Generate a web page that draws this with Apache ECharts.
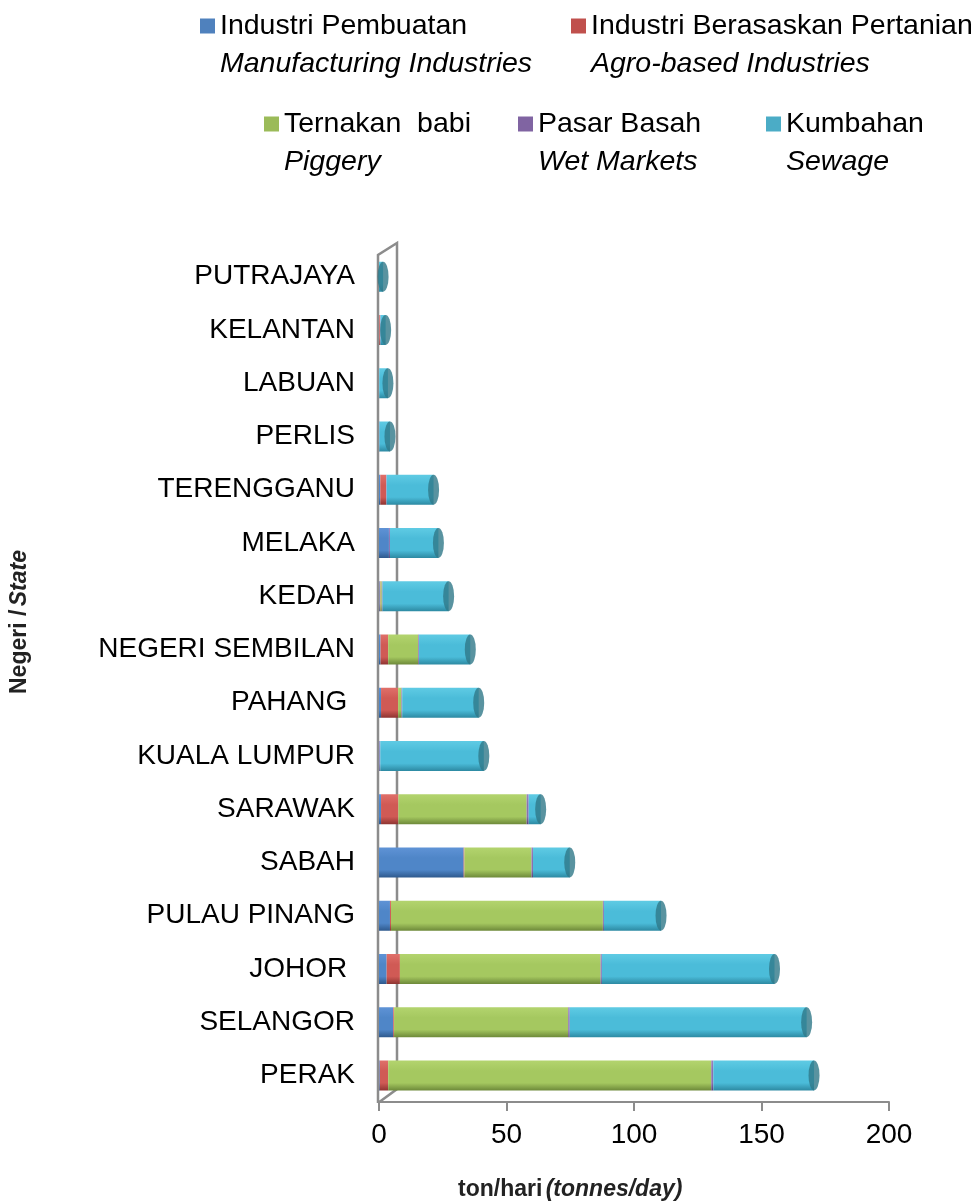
<!DOCTYPE html>
<html>
<head>
<meta charset="utf-8">
<script src="https://cdn.jsdelivr.net/npm/echarts@6/dist/echarts.min.js"></script>
<style>
  html, body { margin: 0; padding: 0; background: #fff; }
  #main { width: 978px; height: 1203px; }
</style>
</head>
<body>
<div id="main"></div>
<script>
// states, bottom to top
const states = ['PERAK', 'SELANGOR', 'JOHOR ', 'PULAU PINANG', 'SABAH', 'SARAWAK', 'KUALA LUMPUR', 'PAHANG ',
  'NEGERI SEMBILAN', 'KEDAH', 'MELAKA', 'TERENGGANU', 'PERLIS', 'LABUAN', 'KELANTAN', 'PUTRAJAYA'];

// tonnes/day, same order as states
const manufacturing = [0.3, 5.6, 3.0, 4.3, 33.2, 0.8, 0.2, 0.8, 0.6, 0.3, 3.9, 0.5, 0.2, 0.1, 0.1, 0];
const agro = [3.3, 0.3, 5.2, 0.4, 0.3, 6.8, 0, 6.7, 3.0, 0.3, 0, 2.3, 0, 0, 0.3, 0];
const piggery = [126.7, 68.3, 78.7, 83.1, 26.3, 50.3, 0, 1.3, 11.8, 0.5, 0, 0, 0, 0, 0, 0];
const wetMarkets = [0.8, 0.6, 0.5, 0.4, 0.6, 0.8, 0.3, 0.3, 0.3, 0.3, 0.4, 0.2, 0, 0, 0.2, 0];
const sewage = [39.5, 92.9, 67.7, 22.4, 14.4, 4.7, 40.6, 30.0, 20.1, 25.9, 19.0, 18.4, 4.1, 3.4, 2.0, 1.6];

const xTicks = [0, 50, 100, 150, 200];

const seriesNames = ['Industri Pembuatan', 'Industri Berasaskan Pertanian', 'Ternakan  babi', 'Pasar Basah', 'Kumbahan'];
const seriesEnglish = ['Manufacturing Industries', 'Agro-based Industries', 'Piggery', 'Wet Markets', 'Sewage'];
const seriesData = [manufacturing, agro, piggery, wetMarkets, sewage];

// [legend colour, cylinder top, cylinder middle, cylinder bottom]
const palette = [
  ['#4f81bd', '#5f93d6', '#4f86c8', '#2f5a8e'],
  ['#c0504d', '#e0706a', '#d05a55', '#8f3532'],
  ['#9bbb59', '#b3d46e', '#a5c860', '#6e8a3a'],
  ['#8064a2', '#9c82c0', '#8a6fb0', '#5a4478'],
  ['#4bacc6', '#5fcbe4', '#4bbcd9', '#2d8aa3']
];

const GRID_LEFT = 379, GRID_RIGHT = 89, GRID_TOP = 250, GRID_BOTTOM = 101;
const FONT = 'Liberation Sans, Arial, sans-serif';

function cyl(c) {
  return {
    type: 'linear', x: 0, y: 0, x2: 0, y2: 1,
    colorStops: [
      { offset: 0, color: c[1] },
      { offset: 0.35, color: c[2] },
      { offset: 0.75, color: c[2] },
      { offset: 1, color: c[3] }
    ]
  };
}

const totals = states.map((s, i) => seriesData.reduce((a, d) => a + d[i], 0));

const chart = echarts.init(document.getElementById('main'));

// one legend per item so positions follow the original
const legendLeft = [200, 571, 264, 518, 766];
const legendTop = [-31, -31, 67, 67, 67];
const legends = seriesNames.map((n, i) => ({
  data: [{ name: n, itemStyle: { color: palette[i][0] } }],
  left: legendLeft[i],
  top: legendTop[i],
  padding: 0,
  itemWidth: 15,
  itemHeight: 15,
  itemGap: 5,
  icon: 'rect',
  formatter: name => '{b| }\n' + name + '\n{i|' + seriesEnglish[seriesNames.indexOf(name)] + '}',
  textStyle: {
    fontFamily: FONT,
    fontSize: 28.5,
    color: '#000',
    lineHeight: 38,
    rich: {
      b: { fontSize: 28.5, lineHeight: 38 },
      i: { fontSize: 28.5, lineHeight: 38, fontStyle: 'italic', color: '#000', fontFamily: FONT }
    }
  }
}));

const series = seriesNames.map((n, k) => ({
  name: n,
  type: 'bar',
  stack: 'total',
  barWidth: 30,
  color: palette[k][0],
  itemStyle: { color: cyl(palette[k]) },
  emphasis: { disabled: true },
  data: seriesData[k]
}));

// end cap of each cylinder
series.push({
  type: 'scatter',
  symbol: 'circle',
  symbolSize: [11, 30],
  z: 5,
  silent: true,
  itemStyle: { color: '#2f7888' },
  data: totals.map((t, i) => [t, i])
});

chart.setOption({
  animation: false,
  backgroundColor: '#fff',
  legend: legends,
  grid: { left: GRID_LEFT, right: GRID_RIGHT, top: GRID_TOP, bottom: GRID_BOTTOM, containLabel: false },
  xAxis: {
    type: 'value',
    min: xTicks[0],
    max: xTicks[xTicks.length - 1],
    interval: 50,
    axisLine: { show: true, lineStyle: { color: '#8c8c8c', width: 2 } },
    axisTick: { show: true, length: 9, lineStyle: { color: '#8c8c8c', width: 2 } },
    splitLine: { show: false },
    axisLabel: { fontFamily: FONT, fontSize: 28, color: '#000', margin: 19 }
  },
  yAxis: {
    type: 'category',
    data: states,
    axisLine: { show: false },
    axisTick: { show: false },
    axisLabel: { fontFamily: FONT, fontSize: 28, color: '#000', margin: 24 }
  },
  series: series
});

// 3D-style frame (front wall, back wall, floor edge) and axis titles
const x0 = GRID_LEFT - 1, depthX = 19, depthY = 14;
const yTop = GRID_TOP + 5, yBot = 1203 - GRID_BOTTOM + 1;
const frameStyle = { stroke: '#8c8c8c', lineWidth: 2.5, fill: null };
chart.setOption({
  graphic: [
    { type: 'polyline', shape: { points: [[x0, yBot], [x0, yTop], [x0 + depthX, yTop - depthY + 2], [x0 + depthX, yBot - depthY], [x0, yBot]] }, style: frameStyle, z: 0, zlevel: 0, silent: true },
    {
      type: 'text', left: 458, top: 1178, z: 10,
      style: {
        text: '{n|ton/hari} {i|(tonnes/day)}',
        rich: {
          n: { fontFamily: FONT, fontSize: 23, fontWeight: 'bold', fill: '#222' },
          i: { fontFamily: FONT, fontSize: 23, fontWeight: 'bold', fontStyle: 'italic', fill: '#222' }
        }
      }
    },
    {
      type: 'text', x: 8, y: 694, rotation: Math.PI / 2, z: 10,
      style: {
        text: '{n|Negeri /} {i|State}',
        rich: {
          n: { fontFamily: FONT, fontSize: 23, fontWeight: 'bold', fill: '#222' },
          i: { fontFamily: FONT, fontSize: 23, fontWeight: 'bold', fontStyle: 'italic', fill: '#222' }
        }
      }
    }
  ]
});
</script>
</body>
</html>
